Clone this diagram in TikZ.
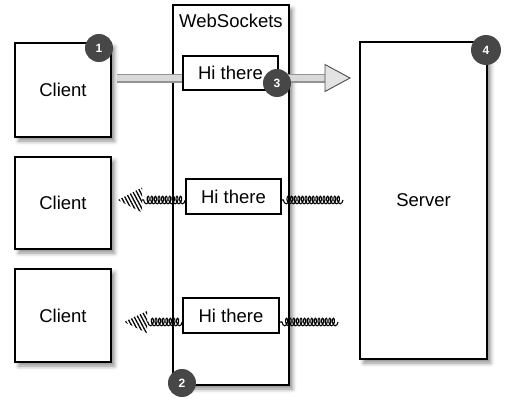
\documentclass[tikz,border=0pt]{standalone}
\usepackage{fontspec}
\setmainfont{Liberation Sans}
\usetikzlibrary{calc,shadows.blur,patterns.meta,decorations.pathmorphing}

\tikzset{
  box/.style={draw, line width=1.1pt, fill=white, inner sep=0pt,
    blur shadow={shadow xshift=1.8pt, shadow yshift=-2pt, shadow blur radius=2pt, shadow opacity=45}},
  msgbox/.style={draw, line width=0.8pt, fill=white, inner sep=0pt},
  badge/.style={circle, fill=black!72, text=white, inner sep=0pt,
    minimum size=14pt, font=\fontsize{6}{7}\selectfont\bfseries},
  shaft/.style={draw=gray!85, line width=0.6pt, double=gray!30, double distance=3.3pt},
  shafthead/.style={draw=gray!60!black, fill=gray!22, line width=0.45pt},
  wave/.style={decorate, decoration={coil, aspect=0.5, segment length=1.8pt, amplitude=1.9pt}, line width=0.55pt},
  wavehead/.style={pattern={Lines[angle=-62,distance=1.6pt,line width=0.65pt]}},
}

\begin{document}
\begin{tikzpicture}[x=0.5pt,y=0.5pt,font=\fontsize{9.25}{11}\selectfont]
\useasboundingbox (0,0) rectangle (510,-412);

%Clients

\node[box, minimum width=48pt, minimum height=47pt] (c1) at (63,-90) {Client};
\node[box, minimum width=48pt, minimum height=46pt] (c2) at (63,-203) {Client};
\node[box, minimum width=48pt, minimum height=46.5pt] (c3) at (63,-315.5) {Client};

%WebSockets e Server

\node[box, minimum width=58pt, minimum height=190pt] (ws) at (231,-195) {};
\node (wslabel) at ($(ws.north)+(0,-17)$) {WebSockets};
\node[box, minimum width=63.5pt, minimum height=158.5pt] (srv) at (423.5,-200.5) {Server};

%Messaggio verso il server

\begin{scope}
\coordinate (a1s) at (117,-78);
\path (a1s) -- +(208,0) coordinate (a1h);
\path (a1s) -- +(233,0) coordinate (a1e);

\draw[shaft] (a1s) -- (a1h);
\draw[shafthead] ($(a1h)+(0,13.5)$) -- (a1e) -- ($(a1h)+(0,-13.5)$) -- cycle;
\end{scope}

%Messaggi verso i client

\coordinate (w2s) at (343,-200);
\coordinate (w2h) at (142,-200);
\coordinate (w2e) at (118,-200);
\coordinate (w3s) at (338,-322);
\coordinate (w3h) at (147,-322);
\coordinate (w3e) at (124,-322);

\node[msgbox, minimum width=47.5pt, minimum height=17pt] (hi1) at (230.5,-73) {Hi there};
\node[msgbox, minimum width=47.5pt, minimum height=17.5pt] (hi2) at (233.5,-196.5) {Hi there};
\node[msgbox, minimum width=48pt, minimum height=17.5pt] (hi3) at (231,-315.5) {Hi there};

\draw[wave] (w2s) -- (w2s -| hi2.east);
\draw[wave] (w2s -| hi2.west) -- (w2h);
\fill[wavehead] ($(w2h)+(0,12.5)$) -- (w2e) -- ($(w2h)+(0,-12.5)$) -- cycle;

\draw[wave] (w3s) -- (w3s -| hi3.east);
\draw[wave] (w3s -| hi3.west) -- (w3h);
\fill[wavehead] ($(w3h)+(0,11)$) -- (w3e) -- ($(w3h)+(0,-11)$) -- cycle;

%Numeri

\node[badge] (b1) at (99,-48) {1};
\node[badge] (b2) at (182,-383) {2};
\node[badge] (b3) at (277,-83) {3};
\node[badge, minimum size=15pt] (b4) at (486,-50) {4};

\end{tikzpicture}
\end{document}
